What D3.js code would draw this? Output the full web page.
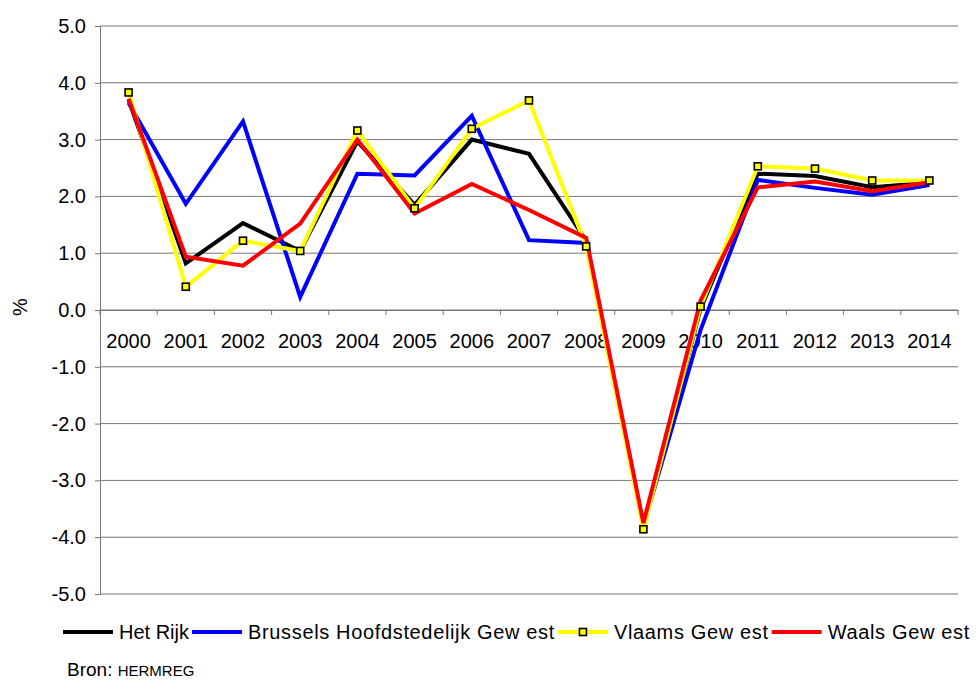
<!DOCTYPE html>
<html>
<head>
<meta charset="UTF-8" />
<title>Groei per gewest</title>
<script src="https://d3js.org/d3.v7.min.js"></script>
<style>
body { margin: 0; background: #fff; }
text { font-family: "Liberation Sans", Arial, sans-serif; fill: #000; }
</style>
</head>
<body>
<script type="text/javascript">

// categories
var years = ["2000","2001","2002","2003","2004","2005","2006","2007","2008","2009","2010","2011","2012","2013","2014"];

// series values (%)
var hetRijk  = [3.70, 0.82, 1.53, 1.04, 2.97, 1.85, 3.00, 2.75, 1.22, -3.80, 0.02, 2.40, 2.36, 2.16, 2.24];
var brussels = [3.65, 1.87, 3.32, 0.23, 2.40, 2.37, 3.42, 1.23, 1.18, -3.80, -0.35, 2.29, 2.15, 2.03, 2.20];
var vlaams   = [3.83, 0.41, 1.22, 1.04, 3.16, 1.79, 3.19, 3.69, 1.12, -3.86, 0.06, 2.53, 2.49, 2.28, 2.28];
var waals    = [3.72, 0.94, 0.78, 1.52, 3.00, 1.70, 2.22, 1.76, 1.27, -3.75, 0.17, 2.16, 2.26, 2.09, 2.25];

var seriesNames = ["Het Rijk", "Brussels Hoofdstedelijk Gew est", "Vlaams Gew est", "Waals Gew est"];
var seriesColors = ["#000000", "#0000ff", "#ffff00", "#ff0000"];
var seriesMarkers = [false, false, true, false];

// y tick labels
var yTicks = [5, 4, 3, 2, 1, 0, -1, -2, -3, -4, -5];

var series = [hetRijk, brussels, vlaams, waals].map(function(v, i) {
  return {name: seriesNames[i], color: seriesColors[i], marker: seriesMarkers[i], values: v};
});

var W = 976, H = 681;
var plot = {left: 100, right: 958, top: 26, bottom: 594};

var svg = d3.select("body").append("svg")
    .attr("width", W)
    .attr("height", H);

var x = d3.scaleBand().domain(years).range([plot.left, plot.right]).padding(0);
var y = d3.scaleLinear().domain([-5, 5]).range([plot.bottom, plot.top]);

//gridlines
svg.append("g").selectAll("line")
    .data(yTicks)
    .enter().append("line")
    .attr("x1", plot.left).attr("x2", plot.right)
    .attr("y1", function(d) { return y(d); })
    .attr("y2", function(d) { return y(d); })
    .attr("stroke", "#777")
    .attr("stroke-width", 1);

//Y axis
var yAxis = svg.append("g")
    .attr("transform", "translate(" + plot.left + ",0)")
    .call(d3.axisLeft(y).tickValues(yTicks).tickFormat(d3.format(".1f")).tickSize(5).tickPadding(9));
yAxis.select(".domain").attr("stroke", "#777");
yAxis.selectAll(".tick line").attr("stroke", "#777");
yAxis.selectAll(".tick text")
    .style("font-size", "20px")
    .style("font-family", "'Liberation Sans', Arial, sans-serif")
    .text(function(d) { return d3.format(".1f")(d).replace("−", "-"); });

//X axis at zero
var xAxis = svg.append("g")
    .attr("transform", "translate(0," + y(0) + ")")
    .call(d3.axisBottom(x).tickSize(0).tickPadding(0));
xAxis.select(".domain").attr("stroke", "#777");
xAxis.selectAll(".tick text")
    .attr("y", 0)
    .attr("dy", "0")
    .style("font-size", "20px")
    .style("font-family", "'Liberation Sans', Arial, sans-serif")
    .attr("transform", "translate(0,38)");

// tick marks between categories
svg.append("g").selectAll("line")
    .data(years.concat(["end"]))
    .enter().append("line")
    .attr("x1", function(d, i) { return plot.left + i * x.bandwidth(); })
    .attr("x2", function(d, i) { return plot.left + i * x.bandwidth(); })
    .attr("y1", y(0))
    .attr("y2", y(0) + 5)
    .attr("stroke", "#777");

// % label
svg.append("text")
    .attr("transform", "translate(27," + (y(0) - 3) + ") rotate(-90)")
    .attr("text-anchor", "middle")
    .style("font-size", "20px")
    .text("%");

//Lines
var line = d3.line()
    .x(function(d, i) { return x(years[i]) + x.bandwidth() / 2; })
    .y(function(d) { return y(d); });

svg.append("g").selectAll("path")
    .data(series)
    .enter().append("path")
    .attr("d", function(s) { return line(s.values); })
    .attr("fill", "none")
    .attr("stroke", function(s) { return s.color; })
    .attr("stroke-width", 4)
    .attr("stroke-linejoin", "miter");

//Markers (Vlaams Gewest)
series.filter(function(s) { return s.marker; }).forEach(function(s) {
  svg.append("g").selectAll("rect")
      .data(s.values)
      .enter().append("rect")
      .attr("x", function(d, i) { return x(years[i]) + x.bandwidth() / 2 - 3.5; })
      .attr("y", function(d) { return y(d) - 3.5; })
      .attr("width", 7)
      .attr("height", 7)
      .attr("fill", s.color)
      .attr("stroke", "#000")
      .attr("stroke-width", 1.6);
});

//Legend
var legend = svg.append("g");
var lx = 63, ly = 632;
series.forEach(function(s, i) {
  legend.append("line")
      .attr("x1", lx).attr("x2", lx + 50)
      .attr("y1", ly).attr("y2", ly)
      .attr("stroke", s.color)
      .attr("stroke-width", 4);
  if (s.marker) {
    legend.append("rect")
        .attr("x", lx + 25 - 3.5).attr("y", ly - 3.5)
        .attr("width", 7).attr("height", 7)
        .attr("fill", s.color)
        .attr("stroke", "#000")
        .attr("stroke-width", 1.6);
  }
  var t = legend.append("text")
      .attr("x", lx + 56)
      .attr("y", ly + 6.5)
      .style("font-size", "20px")
      .style("letter-spacing", i === 0 ? "0px" : "0.65px")
      .text(s.name);
  lx = lx + 56 + t.node().getComputedTextLength() + 3;
});

// source
var bron = svg.append("text")
    .attr("x", 67)
    .attr("y", 676)
    .style("font-size", "19px")
    .text("Bron: ");
bron.append("tspan")
    .style("font-size", "15px")
    .text("HERMREG");

</script>
</body>
</html>
